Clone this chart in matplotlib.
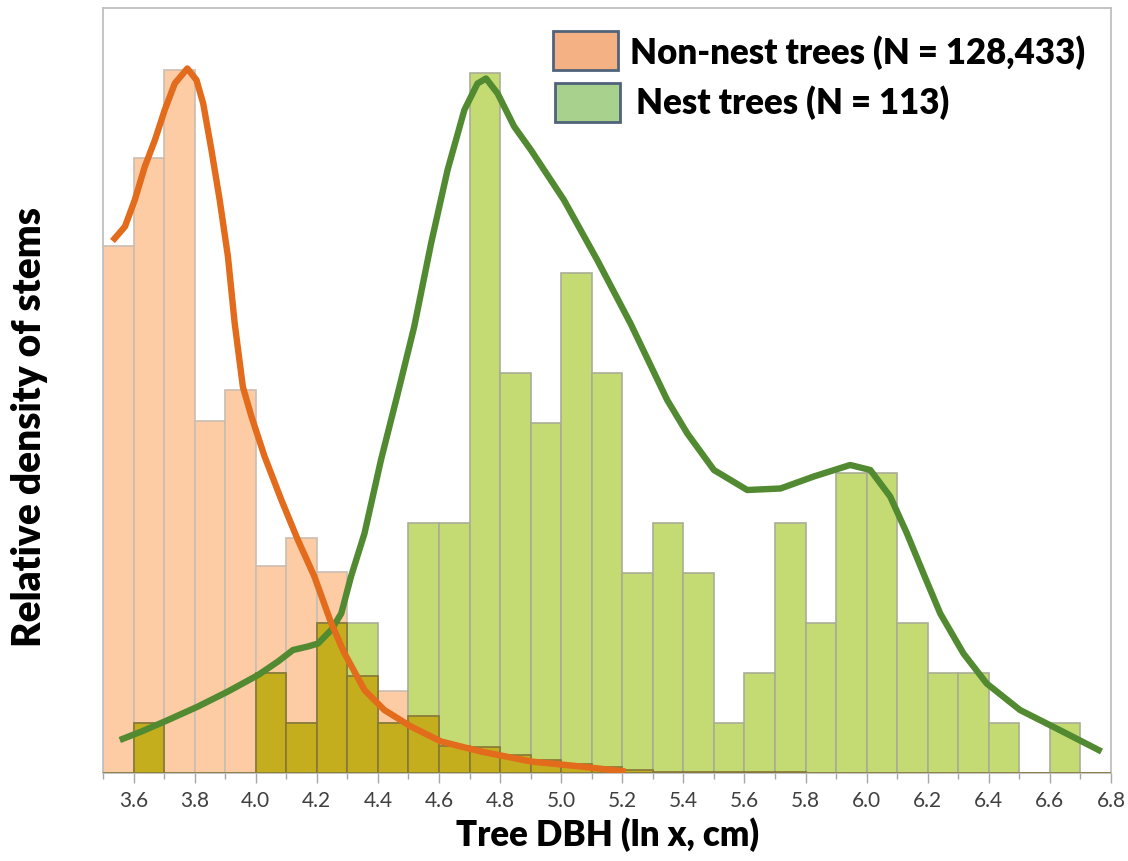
import numpy as np
import matplotlib
matplotlib.use("Agg")
import matplotlib.pyplot as plt
from matplotlib.patches import Rectangle
from matplotlib.ticker import MultipleLocator

# histogram bins (left edges, width 0.1, ln DBH)
bin_left = [3.5, 3.6, 3.7, 3.8, 3.9, 4.0, 4.1, 4.2, 4.3, 4.4, 4.5,
            4.6, 4.7, 4.8, 4.9, 5.0, 5.1, 5.2, 5.3, 5.4, 5.5, 5.6,
            5.7, 5.8, 5.9, 6.0, 6.1, 6.2, 6.3, 6.4, 6.5, 6.6, 6.7]

# nest trees (counts, N = 113)
nest_hist = [0, 1, 0, 0, 0, 2, 1, 3, 3, 1, 5,
             5, 14, 8, 7, 10, 8, 4, 5, 4, 1, 2,
             5, 3, 6, 6, 3, 2, 2, 1, 0, 1, 0]

# non-nest trees, rescaled to the same relative density
nonnest_hist = [10.54, 12.3, 14.06, 7.04, 7.66, 4.14, 4.7, 4.02, 1.94, 1.64, 1.14,
                0.54, 0.52, 0.36, 0.26, 0.18, 0.12, 0.06, 0.03, 0.03, 0.03, 0.03,
                0.03, 0, 0, 0, 0, 0, 0, 0, 0, 0, 0]

# density curves
nonnest_kde_x = [3.531, 3.572, 3.604, 3.637, 3.670, 3.702, 3.735, 3.776, 3.806,
                 3.828, 3.855, 3.882, 3.909, 3.931, 3.958, 3.986, 4.029, 4.084,
                 4.138, 4.192, 4.247, 4.290, 4.356, 4.421, 4.508, 4.607, 4.737,
                 4.901, 5.064, 5.211]
nonnest_kde_y = [10.64, 10.93, 11.46, 12.13, 12.66, 13.26, 13.79, 14.09, 13.86,
                 13.39, 12.46, 11.46, 10.33, 9.00, 7.72, 7.13, 6.33, 5.46,
                 4.66, 3.93, 3.00, 2.40, 1.66, 1.26, 0.93, 0.63, 0.43,
                 0.23, 0.13, 0.03]

nest_kde_x = [3.555, 3.626, 3.713, 3.811, 3.909, 4.008, 4.073, 4.122, 4.171,
              4.204, 4.247, 4.280, 4.312, 4.356, 4.410, 4.465, 4.519, 4.574,
              4.628, 4.683, 4.726, 4.754, 4.792, 4.846, 4.901, 5.009, 5.118,
              5.227, 5.347, 5.413, 5.500, 5.609, 5.718, 5.827, 5.946, 6.012,
              6.077, 6.132, 6.186, 6.241, 6.317, 6.393, 6.502, 6.622, 6.769]
nest_kde_y = [0.66, 0.83, 1.06, 1.33, 1.63, 1.96, 2.23, 2.46, 2.53,
              2.59, 2.86, 3.19, 3.93, 4.79, 6.26, 7.59, 8.93, 10.59,
              12.06, 13.26, 13.79, 13.89, 13.59, 12.93, 12.46, 11.46, 10.26,
              8.99, 7.46, 6.79, 6.06, 5.66, 5.69, 5.93, 6.16, 6.06,
              5.53, 4.79, 3.99, 3.19, 2.39, 1.79, 1.26, 0.89, 0.43]

xticks = [3.6, 3.8, 4.0, 4.2, 4.4, 4.6, 4.8, 5.0, 5.2, 5.4, 5.6, 5.8,
          6.0, 6.2, 6.4, 6.6, 6.8]

ORANGE_FILL = "#FDCBA4"
GREEN_FILL = "#C3DB72"
OLIVE_FILL = "#C4AE1E"
ORANGE_LINE = "#E26B1C"
GREEN_LINE = "#528A31"

fig = plt.figure(figsize=(11.28, 8.61), dpi=100)
ax = fig.add_axes([103 / 1128, 88 / 861, 1008 / 1128, 765 / 861])

overlap = np.minimum(nonnest_hist, nest_hist)

ax.bar(bin_left, nonnest_hist, width=0.1, align="edge", color=ORANGE_FILL,
       edgecolor="#C9BDB2", linewidth=1.2, zorder=1)
ax.bar(bin_left, nest_hist, width=0.1, align="edge", color=GREEN_FILL,
       edgecolor="#A9AD95", linewidth=1.2, zorder=2)
ax.bar(bin_left, overlap, width=0.1, align="edge", color=OLIVE_FILL,
       edgecolor="#857738", linewidth=1.2, zorder=3)

ax.plot(nest_kde_x, nest_kde_y, color=GREEN_LINE, linewidth=4.6,
        solid_capstyle="butt", solid_joinstyle="round", zorder=4)
ax.plot(nonnest_kde_x, nonnest_kde_y, color=ORANGE_LINE, linewidth=4.6,
        solid_capstyle="butt", solid_joinstyle="round", zorder=5)

ax.set_xlim(3.5, 6.8)
ax.set_ylim(0, 15.3)
ax.set_yticks([])
ax.set_xticks(xticks)
ax.set_xticklabels([f"{t:.1f}" for t in xticks])
ax.xaxis.set_minor_locator(MultipleLocator(0.1))
ax.tick_params(axis="x", which="major", length=7, width=1, color="#A6A6A6",
               labelsize=15, labelcolor="#404040", pad=6)
ax.tick_params(axis="x", which="minor", length=4, width=1, color="#A6A6A6")
for lbl in ax.get_xticklabels():
    lbl.set_family("Lato")
for side in ["left", "right", "top", "bottom"]:
    ax.spines[side].set_color("#BFBFBF")
    ax.spines[side].set_linewidth(1.3)

# legend drawn in figure pixels
W, H = 1128, 861
fig.patches.append(Rectangle((553 / W, 1 - 70 / H), 65 / W, 39 / H,
                             transform=fig.transFigure, facecolor="#F4B183",
                             edgecolor="#50637A", linewidth=2))
fig.patches.append(Rectangle((555 / W, 1 - 122 / H), 65 / W, 39 / H,
                             transform=fig.transFigure, facecolor="#A9D18E",
                             edgecolor="#50637A", linewidth=2))
fig.text(630 / W, 1 - 64 / H, "Non-nest trees (N = 128,433)", family="Lato",
         weight="heavy", fontsize=25, color="black", va="baseline")
fig.text(636 / W, 1 - 114 / H, "Nest trees (N = 113)", family="Lato",
         weight="heavy", fontsize=25, color="black", va="baseline")

fig.text(30 / W, 0.504, "Relative density of stems", family="Lato",
         weight="heavy", fontsize=28, rotation=90, ha="center", va="center")
fig.text(0.539, 0.030, "Tree DBH (ln x, cm)", family="Lato",
         weight="heavy", fontsize=25, ha="center", va="center")

fig.savefig("out.png", dpi=100)
